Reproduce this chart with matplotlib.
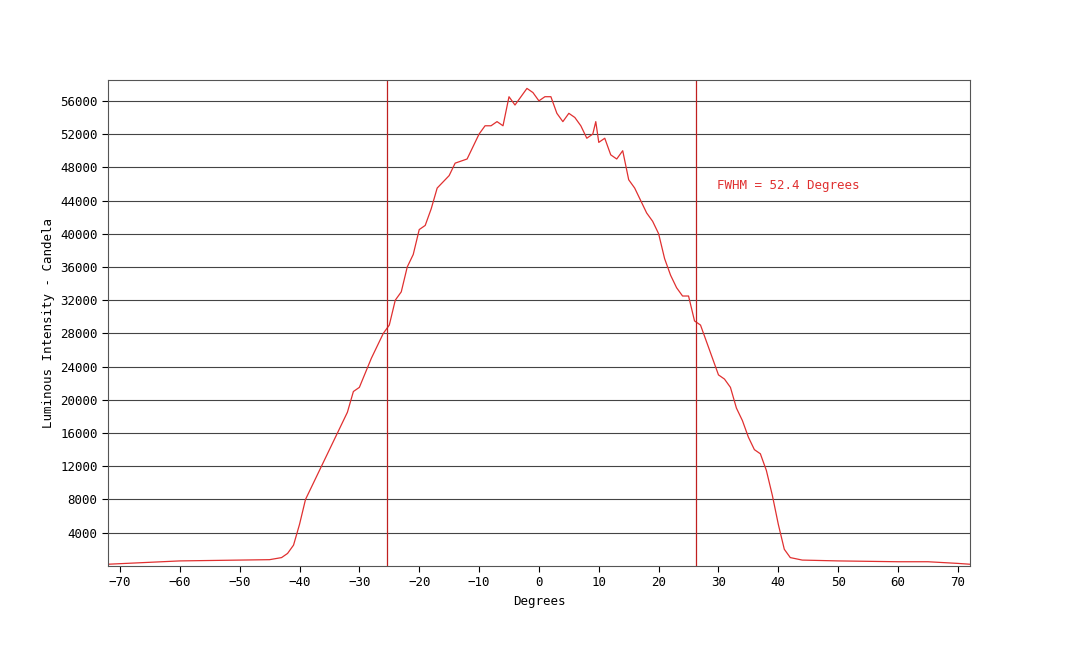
import matplotlib
matplotlib.use("Agg")
import matplotlib.pyplot as plt

deg = [-72,-60,-50,-45,-43,-42,-41,-40,-39,-38,-36,-34,-32,-31,-30,-28,-26,-25,-24,-23,-22,-21,-20,-19,-18,-17,-15,-14,-12,-10,-9,-8,-7,-6,-5,-4,-3,-2,-1,0,1,2,3,4,5,6,7,8,9,9.5,10,11,12,13,14,15,16,17,18,19,20,21,22,23,24,25,26,27,28,29,30,31,32,33,34,35,36,37,38,39,40,41,42,44,50,60,65,70,72]
cd = [200,600,700,750,1000,1500,2500,5000,8000,9500,12500,15500,18500,21000,21500,25000,28000,29000,32000,33000,36000,37500,40500,41000,43000,45500,47000,48500,49000,52000,53000,53000,53500,53000,56500,55500,56500,57500,57000,56000,56500,56500,54500,53500,54500,54000,53000,51500,52000,53500,51000,51500,49500,49000,50000,46500,45500,44000,42500,41500,40000,37000,35000,33500,32500,32500,29500,29000,27000,25000,23000,22500,21500,19000,17500,15500,14000,13500,11500,8500,5000,2000,1000,700,600,500,500,300,200]
fwhm_lines = [-25.3, 26.3]
yticks = list(range(4000, 56001, 4000))
xticks = list(range(-70, 71, 10))

plt.rcParams['font.family'] = ['DejaVu Sans Mono']
fig = plt.figure(figsize=(10.8, 6.46), dpi=100)
ax = fig.add_axes([0.1, 0.124, 0.798, 0.752])
ax.plot(deg, cd, color='#e03030', lw=0.9)
for v in fwhm_lines:
    ax.axvline(v, color='#c02020', lw=0.9)
ax.set_xlim(-72, 72)
ax.set_ylim(0, 58500)
ax.set_yticks(yticks)
ax.set_xticks(xticks)
ax.tick_params(labelsize=9, length=4)
ax.yaxis.grid(True, color='#444444', lw=0.8)
ax.set_axisbelow(True)
for s in ax.spines.values():
    s.set_color('#555555')
ax.set_xlabel('Degrees', fontsize=9)
ax.set_ylabel('Luminous Intensity - Candela', fontsize=9)
ax.text(29.7, 45800, 'FWHM = 52.4 Degrees', color='#e03030', fontsize=9, va='center')
fig.savefig('out.png', dpi=100)
